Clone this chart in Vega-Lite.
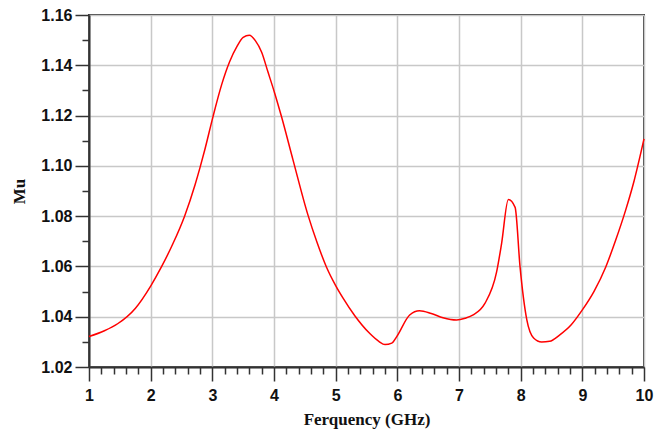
{
  "$schema": "https://vega.github.io/schema/vega-lite/v6.json",
  "width": 555,
  "height": 352,
  "autosize": "none",
  "padding": {"left": 89, "top": 15, "right": 17, "bottom": 67},
  "background": "white",
  "config": {
    "view": {"stroke": "#3a3a3a", "strokeWidth": 2},
    "axis": {
      "labelFont": "Liberation Sans",
      "labelFontWeight": "bold",
      "labelFontSize": 16,
      "labelColor": "#111",
      "titleFont": "Liberation Serif",
      "titleFontWeight": "bold",
      "titleFontSize": 17,
      "titleColor": "#111",
      "domainColor": "#333",
      "domainWidth": 2,
      "tickColor": "#333",
      "tickWidth": 1.5,
      "gridColor": "#c8c8c8",
      "gridWidth": 1.5,
      "gridOpacity": 1
    }
  },
  "data": {
    "values": [
      {"f": 1.0, "mu": 1.0321},
      {"f": 1.25, "mu": 1.0344},
      {"f": 1.47, "mu": 1.0373},
      {"f": 1.75, "mu": 1.0433},
      {"f": 2.0, "mu": 1.0522},
      {"f": 2.17, "mu": 1.0596},
      {"f": 2.36, "mu": 1.069},
      {"f": 2.55, "mu": 1.08},
      {"f": 2.72, "mu": 1.0925},
      {"f": 2.8, "mu": 1.0993},
      {"f": 2.88, "mu": 1.1066},
      {"f": 3.01, "mu": 1.1195},
      {"f": 3.15, "mu": 1.1322},
      {"f": 3.28, "mu": 1.1414},
      {"f": 3.4, "mu": 1.1475},
      {"f": 3.5, "mu": 1.1511},
      {"f": 3.6, "mu": 1.1519},
      {"f": 3.7, "mu": 1.1497},
      {"f": 3.8, "mu": 1.1452},
      {"f": 3.9, "mu": 1.1375},
      {"f": 4.01, "mu": 1.129},
      {"f": 4.12, "mu": 1.1197},
      {"f": 4.31, "mu": 1.1022},
      {"f": 4.55, "mu": 1.0805},
      {"f": 4.7, "mu": 1.0694},
      {"f": 4.85, "mu": 1.0598},
      {"f": 5.0, "mu": 1.0524},
      {"f": 5.12, "mu": 1.0474},
      {"f": 5.31, "mu": 1.0404},
      {"f": 5.55, "mu": 1.0334},
      {"f": 5.7, "mu": 1.0302},
      {"f": 5.8, "mu": 1.0289},
      {"f": 5.91, "mu": 1.0295},
      {"f": 5.99, "mu": 1.0321},
      {"f": 6.2, "mu": 1.0407},
      {"f": 6.36, "mu": 1.0424},
      {"f": 6.55, "mu": 1.0413},
      {"f": 6.74, "mu": 1.0396},
      {"f": 6.96, "mu": 1.0387},
      {"f": 7.1, "mu": 1.0394},
      {"f": 7.23, "mu": 1.0407},
      {"f": 7.42, "mu": 1.0453},
      {"f": 7.61, "mu": 1.0578},
      {"f": 7.69, "mu": 1.069},
      {"f": 7.8, "mu": 1.0866},
      {"f": 7.91, "mu": 1.0835},
      {"f": 7.99, "mu": 1.0598},
      {"f": 8.1, "mu": 1.0387},
      {"f": 8.21, "mu": 1.0315},
      {"f": 8.34, "mu": 1.0299},
      {"f": 8.47, "mu": 1.0302},
      {"f": 8.63, "mu": 1.0327},
      {"f": 8.82, "mu": 1.0368},
      {"f": 9.0, "mu": 1.0427},
      {"f": 9.19, "mu": 1.0501},
      {"f": 9.38, "mu": 1.0598},
      {"f": 9.54, "mu": 1.0704},
      {"f": 9.7, "mu": 1.0822},
      {"f": 9.84, "mu": 1.0941},
      {"f": 10.0, "mu": 1.1107}
    ]
  },
  "layer": [
    {
      "mark": {"type": "line", "color": "#ff0000", "strokeWidth": 1.5, "interpolate": "monotone"},
      "encoding": {
        "x": {
          "field": "f", "type": "quantitative",
          "scale": {"domain": [1, 10], "nice": false, "zero": false},
          "axis": {
            "title": "Ferquency (GHz)",
            "orient": "bottom",
            "values": [1, 2, 3, 4, 5, 6, 7, 8, 9, 10],
            "tickSize": 14,
            "labelPadding": 6,
            "titlePadding": 8,
            "grid": true,
            "labelFlush": false
          }
        },
        "y": {
          "field": "mu", "type": "quantitative",
          "scale": {"domain": [1.02, 1.16], "nice": false, "zero": false},
          "axis": {
            "title": "Mu",
            "orient": "left",
            "values": [1.02, 1.04, 1.06, 1.08, 1.1, 1.12, 1.14, 1.16],
            "format": ".2f",
            "tickSize": 14,
            "labelPadding": 3,
            "titlePadding": 12,
            "grid": true,
            "labelFlush": false
          }
        }
      }
    },
    {
      "mark": {"type": "line", "strokeOpacity": 0},
      "encoding": {
        "x": {
          "field": "f", "type": "quantitative",
          "axis": {
            "title": null,
            "orient": "bottom",
            "values": [1.2, 1.4, 1.6, 1.8, 2.2, 2.4, 2.6, 2.8, 3.2, 3.4, 3.6, 3.8, 4.2, 4.4, 4.6, 4.8, 5.2, 5.4, 5.6, 5.8, 6.2, 6.4, 6.6, 6.8, 7.2, 7.4, 7.6, 7.8, 8.2, 8.4, 8.6, 8.8, 9.2, 9.4, 9.6, 9.8],
            "tickSize": 7,
            "labels": false,
            "domain": false,
            "grid": false
          }
        },
        "y": {
          "field": "mu", "type": "quantitative",
          "axis": {
            "title": null,
            "orient": "left",
            "values": [1.03, 1.05, 1.07, 1.09, 1.11, 1.13, 1.15],
            "tickSize": 7,
            "labels": false,
            "domain": false,
            "grid": false
          }
        }
      }
    }
  ],
  "resolve": {"axis": {"x": "independent", "y": "independent"}}
}
